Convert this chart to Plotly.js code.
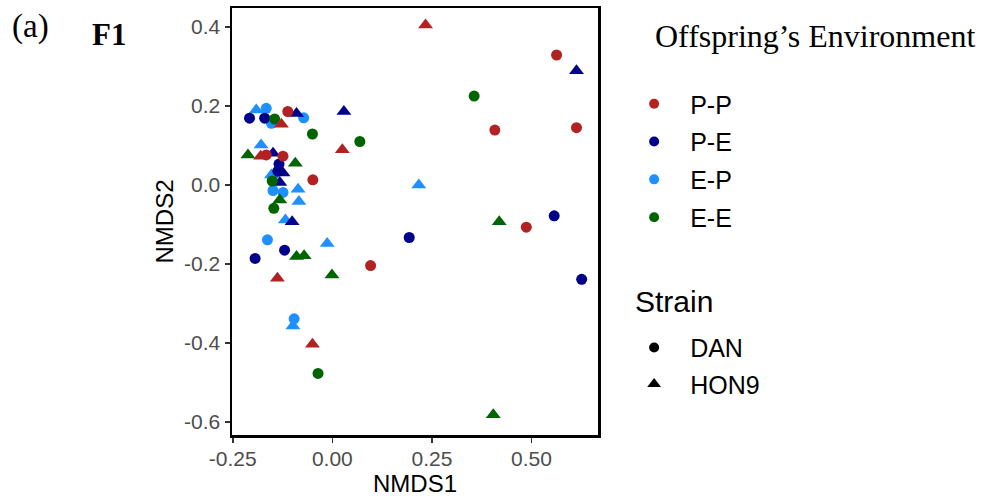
<!DOCTYPE html>
<html><head><meta charset="utf-8">
<script src="https://cdn.plot.ly/plotly-3.0.1.min.js"></script>
<style>html,body{margin:0;padding:0;background:#fff;} #chart{width:981px;height:502px;}</style>
</head><body><div id="chart"></div>
<script>
// Categories
const groups = ['P-P', 'P-E', 'E-P', 'E-E'];
const groupColors = ['#B22222', '#00008B', '#1E90FF', '#006400'];
const strains = ['DAN', 'HON9'];
const strainSymbols = ['circle', 'triangle-up'];

// P-P
const ppDanX = [0.563, 0.408, 0.613, 0.487, -0.112, -0.124, -0.049, 0.096, -0.166];
const ppDanY = [0.329, 0.139, 0.145, -0.107, 0.186, 0.073, 0.013, -0.204, 0.076];
const ppHonX = [0.234, 0.025, -0.128, -0.180, -0.138, -0.050];
const ppHonY = [0.405, 0.089, 0.154, 0.073, -0.236, -0.403];
// P-E
const peDanX = [0.557, 0.193, 0.626, -0.208, -0.170, -0.134, -0.137, -0.120, -0.194];
const peDanY = [-0.078, -0.133, -0.239, 0.169, 0.169, 0.053, 0.035, -0.165, -0.186];
const peHonX = [0.613, 0.029, -0.090, -0.149, -0.124, -0.132, -0.101];
const peHonY = [0.289, 0.186, 0.181, 0.080, 0.030, 0.006, -0.093];
// E-P
const epDanX = [-0.166, -0.153, -0.072, -0.149, -0.124, -0.163, -0.096];
const epDanY = [0.194, 0.156, 0.170, -0.014, -0.019, -0.139, -0.339];
const epHonX = [0.217, -0.191, -0.179, -0.153, -0.086, -0.084, -0.118, -0.013, -0.099];
const epHonY = [0.000, 0.190, 0.101, 0.025, -0.011, -0.042, -0.089, -0.148, -0.357];
// E-E
const eeDanX = [0.356, -0.050, 0.069, -0.145, -0.151, -0.147, -0.036];
const eeDanY = [0.225, 0.129, 0.110, 0.167, 0.010, -0.059, -0.477];
const eeHonX = [0.419, 0.404, -0.212, -0.093, -0.132, -0.090, -0.071, -0.001];
const eeHonY = [-0.093, -0.582, 0.076, 0.055, -0.038, -0.181, -0.179, -0.228];

// Axis ticks
const xTickVals = [-0.25, 0, 0.25, 0.5];
const xTickText = ['-0.25', '0.00', '0.25', '0.50'];
const yTickVals = [-0.6, -0.4, -0.2, 0, 0.2, 0.4];
const yTickText = ['-0.6', '-0.4', '-0.2', '0.0', '0.2', '0.4'];

const seriesData = {
  'P-P': [[ppDanX, ppDanY], [ppHonX, ppHonY]],
  'P-E': [[peDanX, peDanY], [peHonX, peHonY]],
  'E-P': [[epDanX, epDanY], [epHonX, epHonY]],
  'E-E': [[eeDanX, eeDanY], [eeHonX, eeHonY]]
};

const drawOrder = ['E-P', 'P-E', 'E-E', 'P-P'];
const traces = [];
drawOrder.forEach(g => {
  const gi = groups.indexOf(g);
  [1, 0].forEach(si => {
    const d = seriesData[g][si];
    traces.push({
      type: 'scatter', mode: 'markers', x: d[0], y: d[1],
      name: g + ' ' + strains[si], showlegend: false, hoverinfo: 'x+y+name',
      marker: {color: groupColors[gi], symbol: strainSymbols[si], size: si === 0 ? 11 : 13, line: {width: 0}}
    });
  });
});

// Legend entries: environment colours
groups.forEach((g, i) => {
  traces.push({
    type: 'scatter', mode: 'markers', x: [null], y: [null], name: g,
    legend: 'legend', legendgroup: 'env' + i, showlegend: true,
    marker: {color: groupColors[i], symbol: 'circle', size: 10}
  });
});
// Legend entries: strain shapes
strains.forEach((s, i) => {
  traces.push({
    type: 'scatter', mode: 'markers', x: [null], y: [null], name: s,
    legend: 'legend2', legendgroup: 'str' + i, showlegend: true,
    marker: {color: '#000000', symbol: strainSymbols[i], size: i === 0 ? 10 : 12}
  });
});

const sans = 'Arial, "Liberation Sans", sans-serif';
const serif = '"Times New Roman", "Liberation Serif", serif';

const layout = {
  width: 981, height: 502,
  margin: {l: 232, r: 383, t: 8, b: 67, pad: 0},
  paper_bgcolor: '#ffffff', plot_bgcolor: '#ffffff',
  font: {family: sans, color: '#000000'},
  xaxis: {
    range: [-0.252, 0.667], showgrid: false, zeroline: false,
    showline: true, mirror: true, linecolor: '#000000', linewidth: 2.5,
    ticks: 'outside', ticklen: 5, tickwidth: 1.5, tickcolor: '#333333',
    tickmode: 'array', tickvals: xTickVals, ticktext: xTickText,
    tickfont: {family: sans, size: 21, color: '#4D4D4D'}, ticklabelstandoff: -2,
    title: {text: 'NMDS1', font: {family: sans, size: 24, color: '#000000'}, standoff: 6},
    automargin: false
  },
  yaxis: {
    range: [-0.633, 0.448], showgrid: false, zeroline: false,
    showline: true, mirror: true, linecolor: '#000000', linewidth: 2.5,
    ticks: 'outside', ticklen: 5, tickwidth: 1.5, tickcolor: '#333333',
    tickmode: 'array', tickvals: yTickVals, ticktext: yTickText,
    tickfont: {family: sans, size: 21, color: '#4D4D4D'},
    title: {text: 'NMDS2', font: {family: sans, size: 24, color: '#000000'}, standoff: 4},
    automargin: false
  },
  legend: {
    x: 1.055, y: 0.829, xanchor: 'left', yanchor: 'top',
    font: {family: sans, size: 25, color: '#000000'},
    itemwidth: 62, traceorder: 'grouped', tracegroupgap: 2.3,
    bgcolor: 'rgba(0,0,0,0)', borderwidth: 0, itemclick: false, itemdoubleclick: false
  },
  legend2: {
    x: 1.055, y: 0.258, xanchor: 'left', yanchor: 'top',
    font: {family: sans, size: 25, color: '#000000'},
    itemwidth: 62, traceorder: 'grouped', tracegroupgap: 1,
    bgcolor: 'rgba(0,0,0,0)', borderwidth: 0, itemclick: false, itemdoubleclick: false
  },
  annotations: [
    {text: '(a)', xref: 'paper', yref: 'paper', x: -0.606, y: 0.957, xanchor: 'left', yanchor: 'middle', showarrow: false,
     font: {family: serif, size: 33, color: '#000000'}},
    {text: '<b>F1</b>', xref: 'paper', yref: 'paper', x: -0.388, y: 0.938, xanchor: 'left', yanchor: 'middle', showarrow: false,
     font: {family: serif, size: 31, color: '#000000'}},
    {text: 'Offspring\u2019s Environment', xref: 'paper', yref: 'paper', x: 1.150, y: 0.935, xanchor: 'left', yanchor: 'middle', showarrow: false,
     font: {family: serif, size: 32, color: '#000000'}},
    {text: 'Strain', xref: 'paper', yref: 'paper', x: 1.096, y: 0.313, xanchor: 'left', yanchor: 'middle', showarrow: false,
     font: {family: sans, size: 30, color: '#000000'}}
  ]
};

Plotly.newPlot('chart', traces, layout, {displayModeBar: false, staticPlot: true});
</script>
</body></html>
